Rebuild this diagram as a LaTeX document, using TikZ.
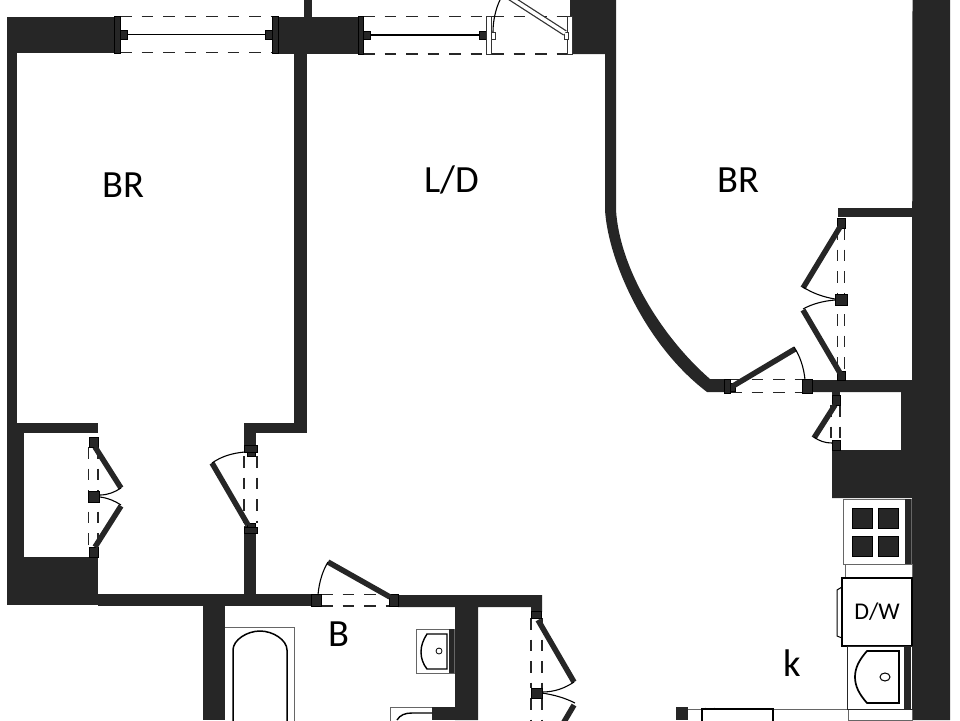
\documentclass[tikz,border=0pt]{standalone}
\usepackage{fontspec}
\setmainfont{Carlito}
\definecolor{walldark}{HTML}{262626}
\tikzset{
wall/.style={fill=walldark, draw=none},
frame/.style={fill=walldark, draw=black, line width=0.3pt},
openframe/.style={fill=white, draw=black!80, line width=1pt},
leaf/.style={draw=walldark, line width=5.5pt},
swing/.style={draw=black, line width=1.1pt},
opening/.style={draw=black!85, line width=1.3pt, dash pattern=on 11.5pt off 10pt},
fixture/.style={draw=black!60, line width=1pt, fill=white},
basin/.style={draw=black, line width=1.7pt},
roomlabel/.style={font=\fontsize{38.5}{38.5}\selectfont, text=black}
}
\begin{document}
\begin{tikzpicture}[x=1pt, y=-1pt]
\useasboundingbox (0,0) rectangle (960,720);
% walls, left side
\fill[wall] (7,17) rectangle (115,53);
\fill[wall] (7,17) rectangle (17,433);
\fill[wall] (7,423) rectangle (98,433);
\fill[wall] (7,433) rectangle (24,605);
\fill[wall] (7,557) rectangle (98,605);
\fill[wall] (98,594) rectangle (311,606);
\fill[wall] (244,526) rectangle (256,594);
\fill[wall] (244,423) rectangle (307,433);
\fill[wall] (244,423) rectangle (256,445);
\fill[wall] (294,53) rectangle (307,433);
\fill[wall] (278,17) rectangle (358,54);
\fill[wall] (304,0) rectangle (312,17);
\fill[wall] (203,605) rectangle (225,720);
% walls, middle
\fill[wall] (398,595) -- (542,595) -- (542,612) -- (531,612) -- (531,607) -- (478,607) -- (478,720) -- (455,720) -- (455,607) -- (398,607) -- cycle;
% walls, right side
\fill[wall] (570,0) -- (616,0) -- (616,210) .. controls (620,272) and (665,340) .. (710,379) -- (724,379) -- (724,392) -- (707,392) .. controls (645,345) and (608,260) .. (605,210) -- (605,54) -- (570,54) -- cycle;
\fill[wall] (912.5,0) -- (950,0) -- (950,720) -- (912,720) -- (912,498) -- (832,498) -- (832,450) -- (901,450) -- (901,392) -- (812,392) -- (812,380) -- (912,380) -- cycle;
\fill[wall] (838,208) rectangle (913,217);
\fill[wall] (832,392) rectangle (840,396);
\fill[wall] (676,707) rectangle (688,720);
% windows
\draw[opening] (120,16.5) -- (272,16.5);
\draw[opening] (120,52.5) -- (272,52.5);
\fill[frame] (114,16) rectangle (120,53);
\fill[frame] (120,30) rectangle (127,39);
\fill[frame] (265,30) rectangle (272,39);
\fill[frame] (272,16) rectangle (278,53);
\draw[line width=1.2pt] (127,34.5) -- (265,34.5);
\draw[opening] (363,16.5) -- (567,16.5);
\draw[opening] (363,54) -- (567,54);
\fill[frame] (358,16) rectangle (363,54);
\fill[frame] (363,31) rectangle (370,39);
\fill[frame] (479,31) rectangle (486,39);
\draw[line width=1.2pt] (370,35) -- (479,35);
% balcony door
\draw[openframe] (486,16) rectangle (491,54);
\draw[openframe] (491,32) rectangle (495,39);
\draw[openframe] (567,16) rectangle (572,54);
\draw[openframe] (564,32) rectangle (568,39);
\draw[draw=black!80, line width=6pt] (565,33) -- (503,-7);
\draw[draw=white, line width=3.5pt] (565,33) -- (503,-7);
\draw[swing] (493,32) .. controls (493,20) and (496,8) .. (500,0);
% closet door, first bedroom
\draw[opening] (88.5,447) -- (88.5,547);
\draw[opening] (98,447) -- (98,547);
\fill[frame] (89,437) rectangle (98,447);
\fill[frame] (88,491) rectangle (99,502);
\fill[frame] (89,547) rectangle (98,557);
\draw[leaf] (95,447) -- (121,488);
\draw[leaf] (95,547) -- (121,506);
\draw[swing] (121,488) .. controls (115,492) and (108,495) .. (100,495);
\draw[swing] (121,505) .. controls (115,501) and (108,498) .. (100,497);
% door, first bedroom
\draw[opening] (244,456) -- (244,523);
\draw[opening] (257,456) -- (257,523);
\fill[frame] (244,445) rectangle (257,452);
\fill[frame] (247,452) rectangle (255,456);
\fill[frame] (244,527) rectangle (257,533);
\fill[frame] (247,523) rectangle (255,527);
\draw[leaf] (248,525) -- (212,463);
\draw[swing] (212,463) .. controls (222,456) and (233,453) .. (245,452);
% door, bathroom
\draw[opening] (321,594.5) -- (390,594.5);
\draw[opening] (321,606) -- (390,606);
\fill[frame] (311,594) rectangle (321,606);
\fill[frame] (389,594) rectangle (398,606);
\draw[leaf] (390,597) -- (328,562);
\draw[swing] (328,562) .. controls (323,570) and (319,582) .. (318,595);
% closet door, hall
\draw[opening] (531,618) -- (531,688);
\draw[opening] (542,618) -- (542,688);
\draw[opening] (531,698) -- (531,720);
\draw[opening] (542,698) -- (542,720);
\fill[frame] (531,611) rectangle (541,618);
\fill[frame] (531,688) rectangle (542,698);
\draw[leaf] (538,620) -- (574,682);
\draw[leaf] (574,705) -- (561,727);
\draw[swing] (574,682) .. controls (565,688) and (555,692) .. (542,692);
\draw[swing] (575,703) .. controls (565,698) and (555,695) .. (542,693);
% door, second bedroom
\draw[opening] (730,379.5) -- (802,379.5);
\draw[opening] (730,392.5) -- (802,392.5);
\fill[frame] (724,379) rectangle (730,393);
\fill[frame] (730,383) rectangle (735,391);
\fill[frame] (802,379) rectangle (812,393);
\draw[leaf] (733,386) -- (795,349);
\draw[swing] (794,347) .. controls (800,356) and (804,368) .. (805,380);
% closet doors, second bedroom
\draw[opening] (837.5,228) -- (837.5,371);
\draw[opening] (844.5,228) -- (844.5,371);
\fill[frame] (837,218) rectangle (845,228);
\fill[frame] (835,294) rectangle (847,305);
\fill[frame] (837,371) rectangle (845,380);
\draw[leaf] (840,227) -- (803,288);
\draw[leaf] (840,373) -- (803,310);
\draw[swing] (803,287) .. controls (812,293) and (823,297) .. (835,299);
\draw[swing] (803,309) .. controls (812,304) and (823,301) .. (835,300);
% closet door, kitchen
\draw[opening] (831,405) -- (831,440);
\draw[opening] (840,405) -- (840,440);
\fill[frame] (832,395) rectangle (840,405);
\fill[frame] (832,440) rectangle (840,450);
\draw[leaf] (835,405) -- (814,438);
\draw[swing] (814,437) .. controls (819,441) and (825,443) .. (832,443);
% stove
\draw[fixture] (843,499) rectangle (911,564);
\fill[wall] (905,499) rectangle (911,564);
\foreach \burnerx in {852,878}
  \foreach \burnery in {508,536}
    \fill[frame] (\burnerx,\burnery) rectangle ++(20,20);
% counter
\draw[fixture] (845,564) rectangle (912,578);
\draw[fixture] (848,709) rectangle (912,720);
\draw[draw=black!60, line width=1pt] (688,709) -- (848,709);
% dishwasher
\draw[line width=1pt, fill=white] (842,587) -- (837,590) -- (837,636) -- (842,638) -- cycle;
\draw[line width=1.5pt, fill=white] (842,578) rectangle (912,646);
\node[font=\fontsize{24}{24}\selectfont] (dw) at (877,612) {D/W};
% sink, kitchen
\draw[fixture, draw=black!85] (847,646) rectangle (912,709);
\fill[wall] (904,646) rectangle (911,709);
\draw[basin] (899,651) -- (867,651) .. controls (859,660) and (855,668) .. (855,677) .. controls (855,686) and (859,694) .. (867,703) -- (899,703) -- cycle;
\draw[line width=1pt] (885,677) ellipse (5 and 4);
% hob
\draw[swing] (705,708) arc (180:0:5);
\draw[line width=1.4pt, fill=white] (702,720.5) -- (702,709) -- (773,709) -- (773,720.5);
% bath
\draw[fixture] (225,627) -- (294,627) -- (294,721);
\draw[line width=1.5pt] (233,721) -- (233,650) .. controls (233,640) and (247,631) .. (260,631) .. controls (273,631) and (287,640) .. (287,650) -- (287,721);
% basin
\draw[fixture] (416,629) rectangle (454,673);
\fill[wall] (449,629) rectangle (454,673);
\draw[line width=1.4pt] (447,634) -- (427,634) .. controls (423,640) and (421,646) .. (421,652) .. controls (421,658) and (423,664) .. (427,669) -- (447,669) -- cycle;
\draw[line width=0.8pt] (439,651) circle (3);
% toilet
\draw[fixture] (390,721) -- (390,707) -- (432,707);
\fill[wall] (432,707) rectangle (455,720);
\draw[line width=1.4pt] (397,720) .. controls (400,715) and (405,713) .. (412,713) -- (432,713);
% room labels
\node[roomlabel] (bedroomleft) at (123,185) {BR};
\node[roomlabel] (living) at (452,180) {L/D};
\node[roomlabel] (bedroomright) at (738,180) {BR};
\node[roomlabel] (bath) at (339,634) {B};
\node[roomlabel] (kitchen) at (792,663) {k};
\end{tikzpicture}
\end{document}
